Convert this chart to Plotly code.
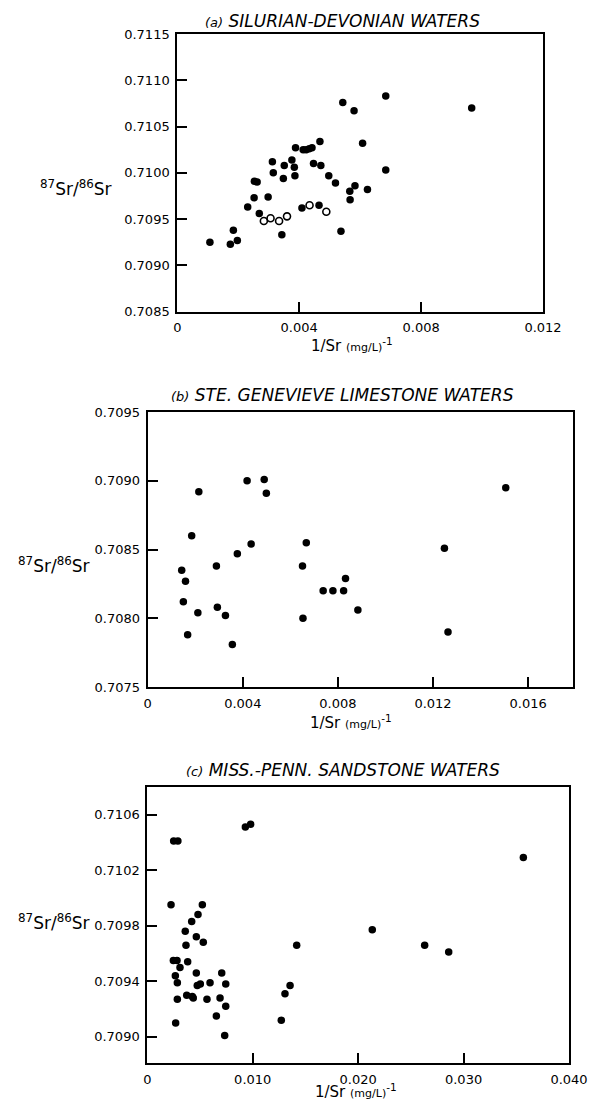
import plotly.graph_objects as go

W, H = 598, 1101

# (a) Silurian-Devonian waters: filled and open symbols
a_fill_x = [0.00543, 0.00580, 0.00684, 0.00966, 0.00608, 0.00684, 0.00388,
            0.00413, 0.00423, 0.00433, 0.00442, 0.00468, 0.00312, 0.00351,
            0.00376, 0.00384, 0.00447, 0.00471, 0.00315, 0.00348, 0.00386,
            0.00253, 0.00262, 0.00497, 0.00519, 0.00583, 0.00566, 0.00567,
            0.00624, 0.00231, 0.00252, 0.00298, 0.00269, 0.00409, 0.00465,
            0.00343, 0.00537, 0.00107, 0.00174, 0.00184, 0.00197]
a_fill_y = [0.71076, 0.71067, 0.71083, 0.71070, 0.71032, 0.71003, 0.71027,
            0.71025, 0.71025, 0.71026, 0.71027, 0.71034, 0.71012, 0.71008,
            0.71014, 0.71006, 0.71010, 0.71008, 0.71000, 0.70994, 0.70997,
            0.70991, 0.70990, 0.70997, 0.70989, 0.70986, 0.70980, 0.70971,
            0.70982, 0.70963, 0.70973, 0.70974, 0.70956, 0.70962, 0.70965,
            0.70933, 0.70937, 0.70925, 0.70923, 0.70938, 0.70927]
a_open_x = [0.00284, 0.00306, 0.00334, 0.00360, 0.00434, 0.00489]
a_open_y = [0.70948, 0.70951, 0.70948, 0.70953, 0.70965, 0.70958]

# (b) Ste. Genevieve limestone waters
b_x = [0.00418, 0.00490, 0.00499, 0.00215, 0.01506, 0.00185, 0.00435,
       0.00377, 0.00667, 0.01248, 0.00143, 0.00289, 0.00651, 0.00159,
       0.00832, 0.00738, 0.00779, 0.00824, 0.00150, 0.00293, 0.00211,
       0.00327, 0.00884, 0.00653, 0.00168, 0.01263, 0.00356]
b_y = [0.70900, 0.70901, 0.70891, 0.70892, 0.70895, 0.70860, 0.70854,
       0.70847, 0.70855, 0.70851, 0.70835, 0.70838, 0.70838, 0.70827,
       0.70829, 0.70820, 0.70820, 0.70820, 0.70812, 0.70808, 0.70804,
       0.70802, 0.70806, 0.70800, 0.70788, 0.70790, 0.70781]

# (c) Miss.-Penn. sandstone waters
c_x = [0.00250, 0.00290, 0.00930, 0.00980, 0.03567, 0.00225, 0.00522,
       0.00481, 0.00421, 0.00360, 0.00465, 0.00367, 0.00531, 0.02134,
       0.01417, 0.02631, 0.02859, 0.00247, 0.00282, 0.00383, 0.00310,
       0.00266, 0.00465, 0.00706, 0.00285, 0.00595, 0.00744, 0.00503,
       0.00474, 0.01354, 0.01306, 0.00374, 0.00427, 0.00436, 0.00285,
       0.00566, 0.00690, 0.00744, 0.00655, 0.00269, 0.01271, 0.00734]
c_y = [0.71041, 0.71041, 0.71051, 0.71053, 0.71029, 0.70995, 0.70995,
       0.70988, 0.70983, 0.70976, 0.70972, 0.70966, 0.70968, 0.70977,
       0.70966, 0.70966, 0.70961, 0.70955, 0.70955, 0.70954, 0.70950,
       0.70944, 0.70946, 0.70946, 0.70939, 0.70939, 0.70938, 0.70938,
       0.70937, 0.70937, 0.70931, 0.70930, 0.70929, 0.70928, 0.70927,
       0.70927, 0.70928, 0.70922, 0.70915, 0.70910, 0.70912, 0.70901]

# tick values and labels
a_xticks = [0, 0.004, 0.008, 0.012]
a_xlabels = ["0", "0.004", "0.008", "0.012"]
a_yticks = [0.7085, 0.7090, 0.7095, 0.7100, 0.7105, 0.7110, 0.7115]
a_ylabels = ["0.7085", "0.7090", "0.7095", "0.7100", "0.7105", "0.7110", "0.7115"]
b_xticks = [0, 0.004, 0.008, 0.012, 0.016]
b_xlabels = ["0", "0.004", "0.008", "0.012", "0.016"]
b_yticks = [0.7075, 0.7080, 0.7085, 0.7090, 0.7095]
b_ylabels = ["0.7075", "0.7080", "0.7085", "0.7090", "0.7095"]
c_xticks = [0, 0.010, 0.020, 0.030, 0.040]
c_xlabels = ["0", "0.010", "0.020", "0.030", "0.040"]
c_yticks = [0.7090, 0.7094, 0.7098, 0.7102, 0.7106]
c_ylabels = ["0.7090", "0.7094", "0.7098", "0.7102", "0.7106"]

titles = ["<span style='font-size:13px'>(a)</span> SILURIAN-DEVONIAN WATERS",
          "<span style='font-size:13px'>(b)</span> STE. GENEVIEVE LIMESTONE WATERS",
          "<span style='font-size:13px'>(c)</span> MISS.-PENN. SANDSTONE WATERS"]
ylab = "<sup>87</sup>Sr/<sup>86</sup>Sr"
xlab = "1/Sr <span style='font-size:11px'>(mg/L)</span><sup>-1</sup>"

FONT = "DejaVu Sans"


def px_x(p):
    return p / W


def px_y(p):
    return 1 - p / H


# plot boxes in pixels: left, right, top, bottom
boxes = [(177.3, 543.0, 34.0, 311.7),
         (147.7, 573.3, 412.0, 687.0),
         (147.3, 569.0, 786.7, 1063.3)]
xranges = [[0, 0.012], [0, 0.0179], [0, 0.040]]
yranges = [[0.7085, 0.7115], [0.7075, 0.7095], [0.70881, 0.71080]]
xt = [(a_xticks, a_xlabels), (b_xticks, b_xlabels), (c_xticks, c_xlabels)]
yt = [(a_yticks, a_ylabels), (b_yticks, b_ylabels), (c_yticks, c_ylabels)]

fig = go.Figure()
dot = dict(color="black", size=7.5, symbol="circle")

fig.add_trace(go.Scatter(x=a_fill_x, y=a_fill_y, mode="markers", marker=dot,
                         xaxis="x", yaxis="y", showlegend=False))
fig.add_trace(go.Scatter(x=a_open_x, y=a_open_y, mode="markers",
                         marker=dict(color="black", size=7, symbol="circle-open",
                                     line=dict(width=1.6, color="black")),
                         xaxis="x", yaxis="y", showlegend=False))
fig.add_trace(go.Scatter(x=b_x, y=b_y, mode="markers", marker=dot,
                         xaxis="x2", yaxis="y2", showlegend=False))
fig.add_trace(go.Scatter(x=c_x, y=c_y, mode="markers", marker=dot,
                         xaxis="x3", yaxis="y3", showlegend=False))

layout = dict(template="none", width=W, height=H,
              margin=dict(l=0, r=0, t=0, b=0, autoexpand=False),
              paper_bgcolor="white", plot_bgcolor="white",
              font=dict(family=FONT, color="black", size=13))

for i, (l, r, t, b) in enumerate(boxes):
    sfx = "" if i == 0 else str(i + 1)
    common = dict(showline=True, linecolor="black", linewidth=2, mirror=True,
                  showgrid=False, zeroline=False, automargin=False,
                  ticks="inside", ticklen=10, tickwidth=1.5, tickcolor="black",
                  tickfont=dict(family=FONT, size=13, color="black"))
    layout["xaxis" + sfx] = dict(common, domain=[px_x(l), px_x(r)],
                                 range=xranges[i], anchor="y" + sfx,
                                 tickvals=xt[i][0], ticktext=xt[i][1],
                                 ticklabelstandoff=3)
    layout["yaxis" + sfx] = dict(common, domain=[px_y(b), px_y(t)],
                                 range=yranges[i], anchor="x" + sfx,
                                 tickvals=yt[i][0], ticktext=yt[i][1],
                                 ticklabelstandoff=3)

fig.update_layout(**layout)

title_pos = [20.7, 395, 770]
ylab_pos = [(76, 188), (54, 565), (54, 922)]
xlab_pos = [(352, 345), (351, 722), (356, 1091)]

for i in range(3):
    fig.add_annotation(text="<i>" + titles[i] + "</i>", xref="paper", yref="paper",
                       x=px_x(343), y=px_y(title_pos[i]), showarrow=False,
                       xanchor="center", yanchor="middle",
                       font=dict(family=FONT, size=17, color="black"))
    fig.add_annotation(text=ylab, xref="paper", yref="paper",
                       x=px_x(ylab_pos[i][0]), y=px_y(ylab_pos[i][1]), showarrow=False,
                       xanchor="center", yanchor="middle",
                       font=dict(family=FONT, size=17, color="black"))
    fig.add_annotation(text=xlab, xref="paper", yref="paper",
                       x=px_x(xlab_pos[i][0]), y=px_y(xlab_pos[i][1]), showarrow=False,
                       xanchor="center", yanchor="middle",
                       font=dict(family=FONT, size=15, color="black"))

fig.write_html("out.html")
